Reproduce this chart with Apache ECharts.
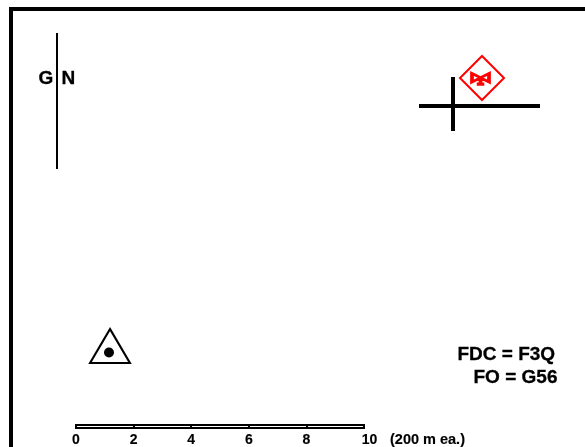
<!DOCTYPE html>
<html><head><meta charset="utf-8">
<style>html,body{margin:0;padding:0;background:#fff}#c{width:585px;height:447px}</style>
<script src="https://cdn.jsdelivr.net/npm/echarts@6/dist/echarts.min.js"></script>
</head><body><div id="c"></div>
<script>
// Map features, in the map's own page-sized coordinates
const frameLine = [[11,447],[11,9],[585,9]];
const northLine = [[57,33],[57,169]];
const crossH = [[419,106],[540,106]];
const crossV = [[453,77],[453,131]];
const siteDiamond = [[482,78]];
const siteValve = [[480.5,79]];
const siteTriangle = [[110,346]];
const siteDot = [[109,352.5]];
const mapLabels = [
  {text:'G', at:[38.5,79]},
  {text:'N', at:[61.5,79]},
  {text:'FDC = F3Q', at:[457.5,355]},
  {text:'FO = G56', at:[473.5,378]}
];
// Scale bar
const scaleTicks = [0,2,4,6,8,10];
const scaleMax = 10;
const scaleNote = '(200 m ea.)';
const scaleNoteAt = [390,440];

const FONT = '"Liberation Sans", Arial, sans-serif';
const black = '#000', red = '#f00';
const mapAxes = {x:{type:'value',min:0,max:585,show:false,gridIndex:0},
                 y:{type:'value',min:0,max:447,inverse:true,show:false,gridIndex:0}};
const lineSeries = (data,width,color) => ({
  type:'line', xAxisIndex:0, yAxisIndex:0, data, symbol:'none', silent:true, animation:false,
  lineStyle:{color:color||black,width,cap:'butt',join:'miter',opacity:1}
});
const markSeries = (data,symbol,symbolSize,itemStyle) => ({
  type:'scatter',xAxisIndex:0,yAxisIndex:0,data,symbol,symbolSize,silent:true,
  itemStyle:Object.assign({opacity:1},itemStyle)
});
const textSeries = (data,fontSize,edge) => ({
  type:'scatter',xAxisIndex:0,yAxisIndex:0,symbol:'circle',symbolSize:1,silent:true,data,
  itemStyle:{opacity:0},
  label:{show:true,position:'inside',align:'left',verticalAlign:'middle',formatter:p=>p.name,
    fontFamily:FONT,fontWeight:'bold',fontSize,color:black,opacity:1,
    textBorderColor:black,textBorderWidth:edge}
});
const option = {
  animation:false,
  backgroundColor:'#fff',
  grid:[
    {left:0,top:0,width:585,height:447},
    {left:76,top:425,width:288,height:4,show:true,backgroundColor:'#fff',borderColor:black,borderWidth:2}
  ],
  xAxis:[mapAxes.x,{
    type:'value',gridIndex:1,min:0,max:scaleMax,interval:2,
    axisLine:{show:false},axisTick:{show:false},
    splitLine:{show:true,lineStyle:{color:black,width:2,type:'solid'}},
    axisLabel:{show:true,margin:5,fontFamily:FONT,fontWeight:'bold',fontSize:14,color:black,
      textBorderColor:black,textBorderWidth:0.15,
      hideOverlap:false,showMinLabel:true,showMaxLabel:true,
      formatter:v=>v===scaleMax?'{m|'+v+'}':String(v),
      rich:{m:{padding:[0,0,0,11],fontFamily:FONT,fontWeight:'bold',fontSize:14,color:black,
        textBorderColor:black,textBorderWidth:0.15}}}
  }],
  yAxis:[mapAxes.y,{type:'value',gridIndex:1,min:0,max:1,show:false}],
  series:[
    lineSeries(frameLine,4),
    lineSeries(northLine,2),
    lineSeries(crossH,4),
    lineSeries(crossV,4),
    markSeries(siteDiamond,'diamond',[44,44],{color:'rgba(0,0,0,0)',borderColor:red,borderWidth:2}),
    markSeries(siteValve,'path://M0 0L9 5L18 0V10L9 5L0 10ZM9 5V12M7 12H11V13H7Z',[17,11],
      {color:'rgba(0,0,0,0)',borderColor:red,borderWidth:3}),
    markSeries(siteTriangle,'triangle',[40,34],{color:'rgba(0,0,0,0)',borderColor:black,borderWidth:2}),
    markSeries(siteDot,'circle',10,{color:black}),
    textSeries(mapLabels.map(d=>({value:d.at,name:d.text})),19,0.3),
    textSeries([{value:scaleNoteAt,name:scaleNote}],14.5,0.15)
  ]
};
const chart = echarts.init(document.getElementById('c'),null,{renderer:'canvas'});
chart.setOption(option);
</script></body></html>
